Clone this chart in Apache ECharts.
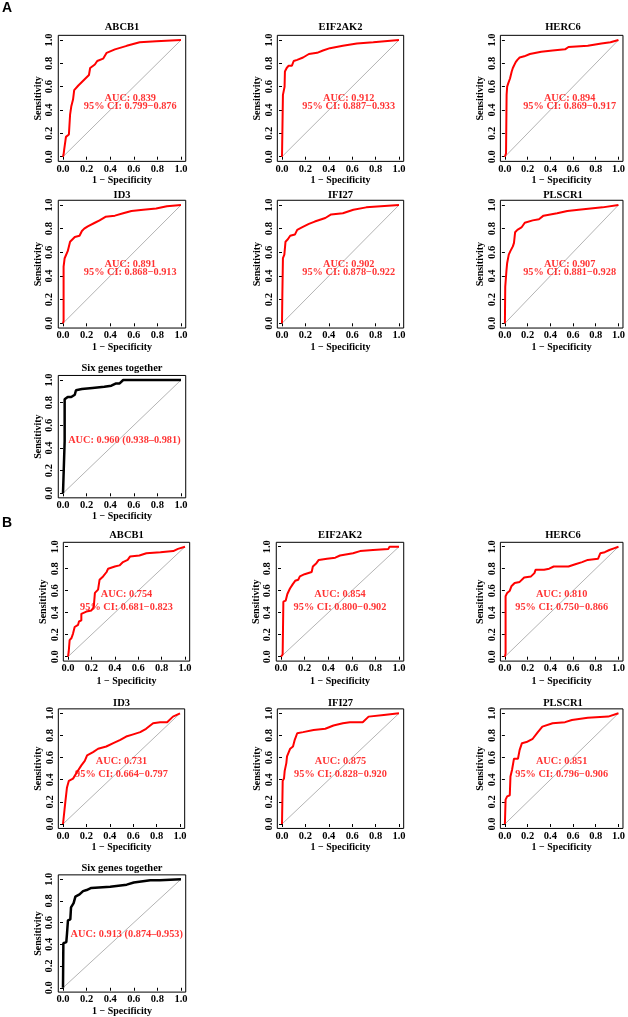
<!DOCTYPE html>
<html><head><meta charset="utf-8">
<script src="https://cdn.jsdelivr.net/npm/echarts@6/dist/echarts.min.js"></script>
<style>html,body{margin:0;padding:0;background:#fff}#c{width:628px;height:1017px}</style>
</head><body><div id="c"></div><script>
// ---------- data ----------
const tickValues = [0, 0.2, 0.4, 0.6, 0.8, 1.0];
const genes = ['ABCB1', 'EIF2AK2', 'HERC6', 'ID3', 'IFI27', 'PLSCR1', 'Six genes together'];
const panelLetters = ['A', 'B'];

const aucA = ['0.839', '0.912', '0.894', '0.891', '0.902', '0.907', '0.960'];
const ciA  = ['0.799−0.876', '0.887−0.933', '0.869−0.917', '0.868−0.913', '0.878−0.922', '0.881−0.928', '0.938–0.981'];
const aucB = ['0.754', '0.854', '0.810', '0.731', '0.875', '0.851', '0.913'];
const ciB  = ['0.681−0.823', '0.800−0.902', '0.750−0.866', '0.664−0.797', '0.828−0.920', '0.796−0.906', '0.874–0.953'];

// ROC curves: [1 - specificity, sensitivity]
const A_ABCB1 = [[0,0],[0.005,0.02],[0.01,0.06],[0.02,0.07],[0.025,0.17],[0.05,0.19],[0.055,0.2],[0.06,0.36],[0.07,0.43],[0.085,0.49],[0.095,0.57],[0.13,0.61],[0.19,0.67],[0.22,0.70],[0.23,0.76],[0.27,0.79],[0.29,0.82],[0.34,0.84],[0.37,0.89],[0.44,0.92],[0.54,0.95],[0.65,0.98],[0.79,0.99],[1,1]];
const A_EIF2AK2 = [[0,0],[0.008,0.01],[0.008,0.53],[0.02,0.54],[0.022,0.6],[0.025,0.73],[0.04,0.76],[0.057,0.78],[0.085,0.78],[0.1,0.82],[0.13,0.83],[0.18,0.85],[0.23,0.88],[0.3,0.89],[0.35,0.91],[0.41,0.93],[0.52,0.95],[0.64,0.97],[0.78,0.98],[1,1]];
const A_HERC6 = [[0,0],[0.01,0.03],[0.015,0.53],[0.02,0.60],[0.03,0.63],[0.045,0.67],[0.06,0.73],[0.07,0.76],[0.085,0.77],[0.095,0.81],[0.11,0.83],[0.13,0.85],[0.17,0.86],[0.22,0.88],[0.32,0.90],[0.42,0.91],[0.53,0.92],[0.56,0.94],[0.73,0.95],[0.85,0.97],[0.93,0.98],[1,1]];
const A_ID3 = [[0,0],[0.005,0.02],[0.005,0.48],[0.014,0.55],[0.04,0.61],[0.06,0.69],[0.1,0.73],[0.14,0.74],[0.16,0.78],[0.18,0.80],[0.21,0.82],[0.27,0.85],[0.31,0.87],[0.36,0.90],[0.44,0.91],[0.51,0.93],[0.58,0.95],[0.68,0.96],[0.79,0.97],[0.88,0.99],[1,1]];
const A_IFI27 = [[0,0],[0.003,0.24],[0.008,0.55],[0.02,0.58],[0.03,0.69],[0.05,0.71],[0.07,0.74],[0.11,0.75],[0.13,0.79],[0.17,0.81],[0.23,0.84],[0.28,0.86],[0.37,0.89],[0.42,0.92],[0.52,0.93],[0.61,0.96],[0.72,0.98],[1,1]];
const A_PLSCR1 = [[0,0],[0.003,0.31],[0.014,0.45],[0.02,0.51],[0.034,0.58],[0.048,0.61],[0.07,0.65],[0.08,0.68],[0.09,0.77],[0.11,0.79],[0.146,0.81],[0.175,0.85],[0.245,0.87],[0.30,0.88],[0.34,0.91],[0.46,0.93],[0.55,0.95],[0.65,0.96],[0.86,0.98],[1,1]];
const A_SIX = [[0,0],[0.01,0.01],[0.014,0.46],[0.014,0.83],[0.04,0.85],[0.07,0.85],[0.1,0.87],[0.11,0.91],[0.16,0.92],[0.25,0.93],[0.35,0.94],[0.41,0.95],[0.45,0.97],[0.48,0.97],[0.51,1.0],[1,1]];

const B_ABCB1 = [[0,0],[0.006,0.045],[0.014,0.15],[0.03,0.17],[0.043,0.21],[0.057,0.27],[0.086,0.29],[0.094,0.32],[0.114,0.33],[0.114,0.39],[0.157,0.41],[0.2,0.42],[0.22,0.45],[0.23,0.58],[0.257,0.61],[0.27,0.70],[0.3,0.73],[0.33,0.77],[0.343,0.8],[0.4,0.82],[0.44,0.83],[0.47,0.86],[0.51,0.88],[0.53,0.91],[0.61,0.92],[0.67,0.94],[0.79,0.95],[0.9,0.96],[0.94,0.98],[1,1]];
const B_EIF2AK2 = [[0,0],[0.014,0.02],[0.02,0.5],[0.04,0.51],[0.054,0.57],[0.076,0.62],[0.1,0.66],[0.12,0.69],[0.146,0.70],[0.16,0.73],[0.2,0.75],[0.26,0.77],[0.27,0.82],[0.3,0.85],[0.32,0.88],[0.39,0.89],[0.46,0.90],[0.5,0.92],[0.61,0.94],[0.67,0.96],[0.78,0.97],[0.91,0.98],[0.92,1.0],[1,1]];
const B_HERC6 = [[0,0],[0.006,0.03],[0.006,0.55],[0.02,0.58],[0.043,0.60],[0.057,0.64],[0.086,0.67],[0.13,0.68],[0.17,0.72],[0.23,0.73],[0.26,0.76],[0.27,0.79],[0.345,0.79],[0.39,0.80],[0.43,0.82],[0.56,0.82],[0.62,0.84],[0.68,0.86],[0.73,0.88],[0.82,0.89],[0.84,0.94],[0.88,0.95],[0.92,0.97],[0.96,0.985],[1,1]];
const B_ID3 = [[0,0],[0.014,0.015],[0.02,0.2],[0.034,0.33],[0.05,0.39],[0.086,0.41],[0.12,0.47],[0.157,0.53],[0.186,0.57],[0.206,0.62],[0.257,0.65],[0.3,0.68],[0.37,0.70],[0.43,0.73],[0.49,0.76],[0.54,0.79],[0.6,0.81],[0.66,0.83],[0.71,0.86],[0.77,0.91],[0.83,0.92],[0.89,0.92],[0.94,0.97],[1,1]];
const B_IFI27 = [[0,0],[0.006,0.39],[0.017,0.41],[0.023,0.48],[0.037,0.55],[0.043,0.61],[0.06,0.62],[0.07,0.68],[0.094,0.70],[0.109,0.76],[0.13,0.82],[0.18,0.83],[0.27,0.85],[0.37,0.86],[0.44,0.89],[0.52,0.91],[0.58,0.92],[0.69,0.92],[0.74,0.97],[0.87,0.985],[1,1]];
const B_PLSCR1 = [[0,0],[0.006,0.22],[0.02,0.25],[0.043,0.26],[0.049,0.43],[0.063,0.49],[0.08,0.59],[0.115,0.59],[0.13,0.67],[0.15,0.73],[0.19,0.74],[0.245,0.77],[0.29,0.83],[0.33,0.88],[0.42,0.91],[0.53,0.92],[0.59,0.94],[0.73,0.96],[0.91,0.97],[1,1]];
const B_SIX = [[0,0],[0.003,0.41],[0.028,0.42],[0.034,0.50],[0.042,0.62],[0.062,0.63],[0.068,0.74],[0.09,0.78],[0.105,0.84],[0.14,0.86],[0.17,0.89],[0.2,0.9],[0.24,0.92],[0.4,0.93],[0.54,0.95],[0.6,0.97],[0.74,0.99],[0.82,0.99],[1,1]];

const curvesA = [A_ABCB1, A_EIF2AK2, A_HERC6, A_ID3, A_IFI27, A_PLSCR1, A_SIX];
const curvesB = [B_ABCB1, B_EIF2AK2, B_HERC6, B_ID3, B_IFI27, B_PLSCR1, B_SIX];

// ---------- layout (pixels of data range 0..1) ----------
const layout = [
  // set, gene, x0, x1, y1(top=1.0), y0(bottom=0.0), titleY, xNameGap
  ['A',0, 63,181, 40,156.7, 27, 13], ['A',1, 282,399, 40,156.7, 27, 13], ['A',2, 505,621, 40,156.7, 27, 13],
  ['A',3, 63,181, 205,323.3, 195, 12], ['A',4, 282,399, 205,323.3, 195, 12], ['A',5, 505,621, 205,323.3, 195, 12],
  ['A',6, 63,181, 380,493.3, 368, 10],
  ['B',0, 68,185, 546.7,656.7, 535, 15], ['B',1, 281,399, 546.7,656.7, 535, 15], ['B',2, 505,621, 546.7,656.7, 535, 15],
  ['B',3, 63,180, 713.3,824, 703, 12], ['B',4, 282,399, 713.3,824, 703, 12], ['B',5, 505,621, 713.3,824, 703, 12],
  ['B',6, 63,181, 879.3,990, 868, 12]
];
// text anchor positions in data coords
const txtPos = { A: {l1:[0.57,0.50], l2:[0.57,0.43], six:[0.52,0.47]},
                 B: {l1:[0.50,0.57], l2:[0.50,0.445], six:[0.54,0.49]} };

const SERIF = '"Liberation Serif","Times New Roman",serif';
const RED = '#FF0000';
const grids = [], xAxes = [], yAxes = [], series = [], graphics = [];

layout.forEach((p, i) => {
  const [set, g, x0, x1, y1, y0, ty, xGap] = p;
  const w = x1 - x0, h = y0 - y1;
  grids.push({ left: x0 - 0.04 * w, top: y1 - 0.04 * h, width: 1.08 * w, height: 1.08 * h,
    show: true, borderColor: '#000', borderWidth: 1, backgroundColor: 'transparent' });
  const common = { gridIndex: i, type: 'value', min: -0.04, max: 1.04,
    axisLine: { show: false }, splitLine: { show: false },
    axisTick: { show: true, inside: false, length: 3, customValues: tickValues, lineStyle: { color: '#000', width: 1 } },
    nameLocation: 'middle',
    nameTextStyle: { fontFamily: SERIF, fontWeight: 'bold', fontSize: 10, color: '#000' } };
  xAxes.push(Object.assign({}, common, {
    position: 'bottom', name: '1 − Specificity', nameGap: xGap,
    axisLabel: { customValues: tickValues, margin: 2, formatter: v => v.toFixed(1),
      fontFamily: SERIF, fontWeight: 'bold', fontSize: 10.5, color: '#000' } }));
  yAxes.push(Object.assign({}, common, {
    position: 'left', name: 'Sensitivity', nameGap: 15, nameRotate: 90,
    axisLabel: { customValues: tickValues, margin: 3, rotate: 90, formatter: v => v.toFixed(1),
      fontFamily: SERIF, fontWeight: 'bold', fontSize: 10.5, color: '#000' } }));

  const six = g === 6;
  const curve = (set === 'A' ? curvesA : curvesB)[g];
  series.push({ type: 'line', xAxisIndex: i, yAxisIndex: i, data: [[0,0],[1,1]], showSymbol: false,
    silent: true, lineStyle: { color: '#b4b4b4', width: 1 }, z: 2 });
  series.push({ type: 'line', xAxisIndex: i, yAxisIndex: i, data: curve, showSymbol: false,
    silent: true, lineStyle: { color: six ? '#000' : RED, width: six ? 2.5 : 2 }, z: 3 });

  const auc = (set === 'A' ? aucA : aucB)[g], ci = (set === 'A' ? ciA : ciB)[g];
  const tp = txtPos[set];
  const items = six
    ? [{ value: tp.six, name: 'AUC: ' + auc + ' (' + ci + ')' }]
    : [{ value: tp.l1, name: 'AUC: ' + auc }, { value: tp.l2, name: '95% CI: ' + ci }];
  series.push({ type: 'scatter', xAxisIndex: i, yAxisIndex: i, symbolSize: 0, silent: true, z: 5,
    data: items,
    label: { show: true, position: 'inside', formatter: '{b}', color: RED,
      fontFamily: SERIF, fontWeight: 'bold', fontSize: 10.3 } });

  graphics.push({ type: 'text', x: (x0 + x1) / 2, y: ty, silent: true,
    style: { text: genes[g], fill: '#000', font: 'bold 10.5px ' + SERIF,
      textAlign: 'center', textVerticalAlign: 'middle', align: 'center', verticalAlign: 'middle' } });
});

graphics.push({ type: 'text', x: 2, y: 8, style: { text: panelLetters[0], fill: '#000',
  font: 'bold 14px "Liberation Sans",Arial,sans-serif', textVerticalAlign: 'middle', verticalAlign: 'middle' } });
graphics.push({ type: 'text', x: 2, y: 523, style: { text: panelLetters[1], fill: '#000',
  font: 'bold 14px "Liberation Sans",Arial,sans-serif', textVerticalAlign: 'middle', verticalAlign: 'middle' } });

const chart = echarts.init(document.getElementById('c'), null, { renderer: 'canvas' });
chart.setOption({ animation: false, backgroundColor: '#fff',
  grid: grids, xAxis: xAxes, yAxis: yAxes, series: series, graphic: graphics });
</script></body></html>
